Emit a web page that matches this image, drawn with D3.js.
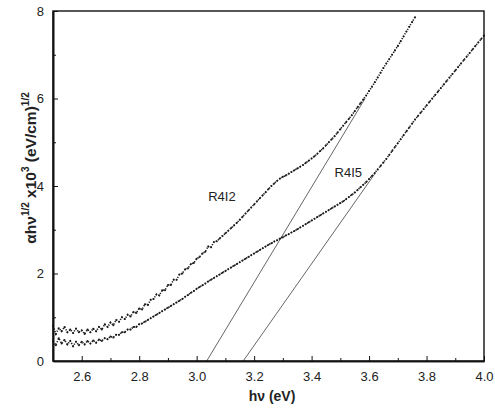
<!DOCTYPE html>
<html><head><meta charset="utf-8">
<script src="https://cdn.jsdelivr.net/npm/d3@7"></script>
<style>body{margin:0;background:#fff;} svg{display:block;font-family:"Liberation Sans",Arial,sans-serif;}</style>
</head><body>
<svg id="c" width="495" height="409"></svg>
<script>
// ---- data ----
const xStart = 2.50, xStep = 0.01;
const r4i2Values = [0.80,0.62,0.75,0.68,0.78,0.66,0.72,0.64,0.74,0.66,
 0.70,0.62,0.72,0.66,0.74,0.68,0.78,0.72,0.84,0.78,
 0.88,0.82,0.94,0.90,1.00,0.96,1.06,1.02,1.12,1.10,
 1.20,1.18,1.30,1.28,1.40,1.42,1.52,1.50,1.62,1.62,
 1.74,1.74,1.86,1.86,1.98,2.00,2.10,2.12,2.22,2.24,
 2.34,2.38,2.46,2.50,2.62,2.60,2.72,2.74,2.80,2.86,
 2.92,2.98,3.04,3.10,3.16,3.23,3.30,3.37,3.44,3.51,
 3.58,3.65,3.72,3.79,3.86,3.93,4.00,4.06,4.12,4.17,
 4.21,4.24,4.28,4.32,4.36,4.40,4.44,4.48,4.53,4.58,
 4.63,4.68,4.74,4.80,4.86,4.93,5.00,5.07,5.14,5.22,
 5.30,5.38,5.46,5.54,5.62,5.71,5.80,5.89,5.98,6.07,
 6.17,6.27,6.37,6.48,6.59,6.70,6.80,6.90,7.00,7.10,
 7.20,7.31,7.42,7.53,7.64,7.75,7.86];
const r4i5Values = [0.45,0.36,0.52,0.40,0.48,0.38,0.46,0.34,0.44,0.36,
 0.44,0.38,0.46,0.40,0.47,0.42,0.49,0.46,0.52,0.50,
 0.56,0.54,0.60,0.60,0.66,0.66,0.72,0.72,0.78,0.78,
 0.84,0.86,0.90,0.94,0.98,1.02,1.06,1.10,1.14,1.18,
 1.22,1.26,1.30,1.34,1.38,1.42,1.47,1.51,1.56,1.60,
 1.65,1.69,1.73,1.77,1.82,1.86,1.90,1.94,1.98,2.02,
 2.06,2.10,2.14,2.18,2.22,2.26,2.30,2.34,2.38,2.42,
 2.46,2.50,2.54,2.58,2.62,2.66,2.69,2.73,2.76,2.80,
 2.83,2.87,2.90,2.94,2.97,3.01,3.05,3.09,3.13,3.17,
 3.21,3.25,3.29,3.33,3.37,3.41,3.45,3.49,3.53,3.57,
 3.61,3.65,3.70,3.75,3.80,3.85,3.91,3.97,4.03,4.09,
 4.16,4.23,4.30,4.38,4.46,4.54,4.62,4.71,4.80,4.89,
 4.98,5.07,5.16,5.25,5.34,5.43,5.52,5.60,5.68,5.76,
 5.84,5.92,6.00,6.08,6.16,6.24,6.32,6.40,6.48,6.56,
 6.64,6.72,6.80,6.88,6.96,7.04,7.12,7.20,7.28,7.36,7.44];
const fitR4I2X = [3.035, 3.586], fitR4I2Y = [0, 6.0];
const fitR4I5X = [3.162, 3.620], fitR4I5Y = [0, 4.28];
const xTicks = [2.6, 2.8, 3.0, 3.2, 3.4, 3.6, 3.8, 4.0];
const xMinor = [2.5, 2.7, 2.9, 3.1, 3.3, 3.5, 3.7, 3.9];
const yTicks = [0, 2, 4, 6, 8];
const yMinor = [1, 3, 5, 7];
const labels = [{t:"R4I2", x:3.04, y:3.65}, {t:"R4I5", x:3.48, y:4.2}];

// ---- chart ----
const W = 495, H = 409, m = {l:53, t:11, r:11, b:48};
const svg = d3.select("#c");
const x = d3.scaleLinear().domain([2.5, 4.0]).range([m.l, W - m.r]);
const y = d3.scaleLinear().domain([0, 8]).range([H - m.b, m.t]);
const toPts = (vals) => vals.map((v, i) => [xStart + i * xStep, v]);
const s1 = toPts(r4i2Values), s2 = toPts(r4i5Values);

// fit lines
const ln = d3.line().x(d => x(d[0])).y(d => y(d[1]));
[[fitR4I2X, fitR4I2Y], [fitR4I5X, fitR4I5Y]].forEach(([fx, fy]) => {
  svg.append("path").attr("d", ln(fx.map((v, i) => [v, fy[i]])))
    .attr("fill", "none").attr("stroke", "#555").attr("stroke-width", 0.9);
});

// dotted data curves
[s1, s2].forEach(s => {
  svg.append("path").attr("d", ln(s)).attr("fill", "none")
    .attr("stroke", "#1a1a1a").attr("stroke-width", 1.6)
    .attr("stroke-dasharray", "1.2,1.5");
  svg.append("g").selectAll("circle").data(s).join("circle")
    .attr("cx", d => x(d[0])).attr("cy", d => y(d[1])).attr("r", 1).attr("fill", "#1a1a1a");
});

// frame
svg.append("rect").attr("x", m.l).attr("y", m.t)
  .attr("width", W - m.r - m.l).attr("height", H - m.b - m.t)
  .attr("fill", "none").attr("stroke", "#111").attr("stroke-width", 1.4);

// axes
svg.append("g").attr("transform", `translate(0,${H - m.b})`)
  .call(d3.axisBottom(x).tickValues(xTicks).tickSizeInner(-5).tickSizeOuter(0).tickPadding(11).tickFormat(d3.format(".1f")));
svg.append("g").attr("transform", `translate(0,${H - m.b})`)
  .call(d3.axisBottom(x).tickValues(xMinor).tickSizeInner(-3).tickSizeOuter(0).tickFormat(""));
svg.append("g").attr("transform", `translate(${m.l},0)`)
  .call(d3.axisLeft(y).tickValues(yTicks).tickSizeInner(-5).tickSizeOuter(0).tickPadding(9).tickFormat(d3.format("d")));
svg.append("g").attr("transform", `translate(${m.l},0)`)
  .call(d3.axisLeft(y).tickValues(yMinor).tickSizeInner(-3).tickSizeOuter(0).tickFormat(""));
svg.selectAll(".domain").attr("stroke", "#111").attr("stroke-width", 1.6);
svg.selectAll(".tick line").attr("stroke", "#111").attr("stroke-width", 1);
svg.selectAll(".tick text").attr("font-size", 13).attr("fill", "#222")
  .attr("font-family", "'Liberation Sans',Arial,sans-serif");

// annotations
labels.forEach(l => svg.append("text").attr("x", x(l.x)).attr("y", y(l.y))
  .attr("font-size", 13).attr("fill", "#222").text(l.t));

// axis titles
svg.append("text").attr("x", 272).attr("y", 401)
  .attr("text-anchor", "middle").attr("font-size", 14).attr("font-weight", "bold").attr("fill", "#222")
  .text("hν (eV)");
const yt = svg.append("text").attr("transform", "translate(36,168) rotate(-90)")
  .attr("text-anchor", "middle").attr("font-size", 15.5).attr("font-weight", "bold").attr("fill", "#222");
yt.append("tspan").text("αhν");
yt.append("tspan").attr("dy", -7).attr("font-size", 10).text("1/2");
yt.append("tspan").attr("dy", 7).text(" x10");
yt.append("tspan").attr("dy", -7).attr("font-size", 10).text("3");
yt.append("tspan").attr("dy", 7).text(" (eV/cm)");
yt.append("tspan").attr("dy", -7).attr("font-size", 10).text("1/2");
</script>
</body></html>
